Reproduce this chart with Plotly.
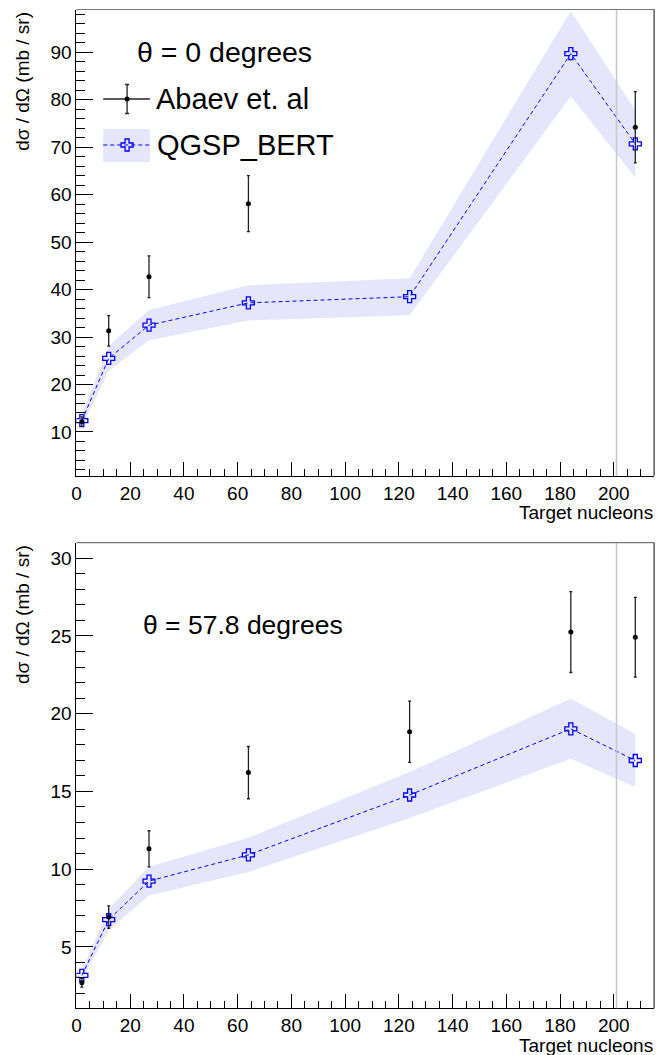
import plotly.graph_objects as go

W, H = 668, 1055

# ---------------- data ----------------
nucleons = [2, 12, 27, 64, 124, 184, 208]

# theta = 0 degrees
exp0_x = [2, 12, 27, 64, 208]
exp0_y = [12.2, 31.3, 42.7, 58.1, 74.2]
exp0_err = [1.0, 3.2, 4.4, 5.9, 7.5]
sim0_y = [12.4, 25.5, 32.5, 37.2, 38.5, 89.7, 70.7]
sim0_err = [1.2, 2.6, 3.2, 3.7, 3.9, 9.0, 7.1]

# theta = 57.8 degrees
exp1_x = [2, 12, 27, 64, 124, 184, 208]
exp1_y = [2.69, 6.92, 11.31, 16.21, 18.84, 25.25, 24.92]
exp1_err = [0.28, 0.72, 1.16, 1.68, 1.97, 2.6, 2.56]
sim1_y = [3.17, 6.75, 9.23, 10.92, 14.77, 19.03, 16.99]
sim1_err = [0.32, 0.68, 0.92, 1.1, 1.48, 1.93, 1.7]

x_ticks = [0, 20, 40, 60, 80, 100, 120, 140, 160, 180, 200]
ref_line_x = 201

labels = ["θ = 0 degrees", "θ = 57.8 degrees"]
exp_name = "Abaev et. al"
sim_name = "QGSP_BERT"
x_title = "Target nucleons"
y_title = "dσ / dΩ (mb / sr)"

# ---------------- style ----------------
FONT = "Liberation Sans, Arial, Helvetica, sans-serif"
BAND = "#e5e5fb"
BLUE = "#0000ff"


def px(x):
    return x / W


def py(y):
    return 1 - y / H


fig = go.Figure()

panels = [
    dict(xa="x", ya="y", ex=exp0_x, ey=exp0_y, ee=exp0_err, sy=sim0_y, se=sim0_err),
    dict(xa="x2", ya="y2", ex=exp1_x, ey=exp1_y, ee=exp1_err, sy=sim1_y, se=sim1_err),
]

for p in panels:
    up = [v + e for v, e in zip(p["sy"], p["se"])]
    lo = [v - e for v, e in zip(p["sy"], p["se"])]
    fig.add_trace(go.Scatter(x=nucleons, y=up, mode="lines", line=dict(width=0, color=BAND),
                             xaxis=p["xa"], yaxis=p["ya"], showlegend=False, hoverinfo="skip"))
    fig.add_trace(go.Scatter(x=nucleons, y=lo, mode="lines", line=dict(width=0, color=BAND),
                             fill="tonexty", fillcolor=BAND,
                             xaxis=p["xa"], yaxis=p["ya"], showlegend=False, hoverinfo="skip"))
    fig.add_trace(go.Scatter(x=nucleons, y=p["sy"], mode="lines+markers",
                             line=dict(color=BLUE, width=1, dash="4px,3px"),
                             marker=dict(symbol="cross-open", size=10, color=BLUE,
                                         line=dict(width=1.3, color=BLUE)),
                             xaxis=p["xa"], yaxis=p["ya"], showlegend=False))
    fig.add_trace(go.Scatter(x=p["ex"], y=p["ey"], mode="markers",
                             marker=dict(symbol="circle", size=5, color="black"),
                             error_y=dict(type="data", array=p["ee"], visible=True,
                                          color="#222", thickness=1.3, width=1.5),
                             xaxis=p["xa"], yaxis=p["ya"], showlegend=False))

# panel geometry (pixels)
left, right = 72, 654
top0, bot0 = 9.5, 475.7
top1, bot1 = 542.7, 1008.3

axis_common = dict(showgrid=False, zeroline=False, showline=True, linecolor="black", linewidth=1,
                   ticks="inside", tickcolor="black", tickwidth=1,
                   tickfont=dict(family=FONT, size=19, color="black"))

fig.update_layout(
    width=W, height=H, margin=dict(l=0, r=0, t=0, b=0),
    paper_bgcolor="white", plot_bgcolor="rgba(0,0,0,0)", showlegend=False,
    xaxis=dict(domain=[px(left), px(right)], range=[0, 215], anchor="y",
               tickvals=x_ticks, ticklen=14,
               minor=dict(dtick=5, tick0=0, ticklen=7, ticks="inside", tickcolor="black"),
               **axis_common),
    yaxis=dict(domain=[py(bot0), py(top0)], range=[0.79, 99.0], anchor="x",
               dtick=10, tick0=0, ticklen=17,
               minor=dict(dtick=2, tick0=0, ticklen=9, ticks="inside", tickcolor="black"),
               **axis_common),
    xaxis2=dict(domain=[px(left), px(right)], range=[0, 215], anchor="y2",
                tickvals=x_ticks, ticklen=14,
                minor=dict(dtick=5, tick0=0, ticklen=7, ticks="inside", tickcolor="black"),
                **axis_common),
    yaxis2=dict(domain=[py(bot1), py(top1)], range=[1.05, 31.0], anchor="x2",
                dtick=5, tick0=0, ticklen=17,
                minor=dict(dtick=1, tick0=0, ticklen=9, ticks="inside", tickcolor="black"),
                **axis_common),
    xaxis3=dict(domain=[0, 1], range=[0, W], visible=False, anchor="y3"),
    yaxis3=dict(domain=[0, 1], range=[H, 0], visible=False, anchor="x3"),
)

shapes = []
# reference line and frame
for xa, ya, t, b in [("x", "y", top0, bot0), ("x2", "y2", top1, bot1)]:
    shapes.append(dict(type="line", xref=xa, yref=ya + " domain", x0=ref_line_x, x1=ref_line_x,
                       y0=0, y1=1, line=dict(color="#c8c8c8", width=1.5), layer="above"))
    shapes.append(dict(type="line", xref="paper", yref="paper", x0=px(left), x1=px(right),
                       y0=py(t), y1=py(t), line=dict(color="#777", width=1.2)))
    shapes.append(dict(type="line", xref="paper", yref="paper", x0=px(right), x1=px(right),
                       y0=py(t), y1=py(b), line=dict(color="#333", width=1.2)))

# legend box for QGSP_BERT
shapes.append(dict(type="rect", xref="paper", yref="paper", x0=px(99), x1=px(146),
                   y0=py(162), y1=py(129), fillcolor=BAND, line=dict(width=0), layer="below"))
fig.update_layout(shapes=shapes)

# legend samples (pixel-space overlay axis)
fig.add_trace(go.Scatter(x=[99, 146], y=[99, 99], mode="lines", line=dict(color="#222", width=1.3),
                         xaxis="x3", yaxis="y3", showlegend=False, hoverinfo="skip"))
fig.add_trace(go.Scatter(x=[123], y=[99], mode="markers", marker=dict(size=5, color="black"),
                         error_y=dict(type="data", array=[14.5], visible=True, color="#222",
                                      thickness=1.3, width=2),
                         xaxis="x3", yaxis="y3", showlegend=False, hoverinfo="skip"))
fig.add_trace(go.Scatter(x=[99, 146], y=[145, 145], mode="lines",
                         line=dict(color=BLUE, width=1, dash="4px,3px"),
                         xaxis="x3", yaxis="y3", showlegend=False, hoverinfo="skip"))
fig.add_trace(go.Scatter(x=[123], y=[145], mode="markers",
                         marker=dict(symbol="cross-open", size=10, color=BLUE,
                                     line=dict(width=1.3, color=BLUE)),
                         xaxis="x3", yaxis="y3", showlegend=False, hoverinfo="skip"))

ann = []
ann.append(dict(text=labels[0], x=px(131), y=py(52), xref="paper", yref="paper",
                xanchor="left", yanchor="middle", showarrow=False,
                font=dict(family=FONT, size=28.5, color="black")))
ann.append(dict(text=exp_name, x=px(150), y=py(99), xref="paper", yref="paper",
                xanchor="left", yanchor="middle", showarrow=False,
                font=dict(family=FONT, size=29, color="black")))
ann.append(dict(text=sim_name, x=px(151), y=py(145), xref="paper", yref="paper",
                xanchor="left", yanchor="middle", showarrow=False,
                font=dict(family=FONT, size=29, color="black")))
ann.append(dict(text=labels[1], x=px(137), y=py(625), xref="paper", yref="paper",
                xanchor="left", yanchor="middle", showarrow=False,
                font=dict(family=FONT, size=26.5, color="black")))
for t, b, xt in [(top0, bot0, 512.5), (top1, bot1, 1045)]:
    ann.append(dict(text=x_title, x=px(right + 1), y=py(xt), xref="paper", yref="paper",
                    xanchor="right", yanchor="middle", showarrow=False,
                    font=dict(family=FONT, size=19, color="black")))
    ann.append(dict(text=y_title, x=px(17), y=py(t), xref="paper", yref="paper",
                    xanchor="center", yanchor="top", textangle=-90, showarrow=False,
                    font=dict(family=FONT, size=19, color="black")))
fig.update_layout(annotations=ann)

fig.write_html("out.html")
